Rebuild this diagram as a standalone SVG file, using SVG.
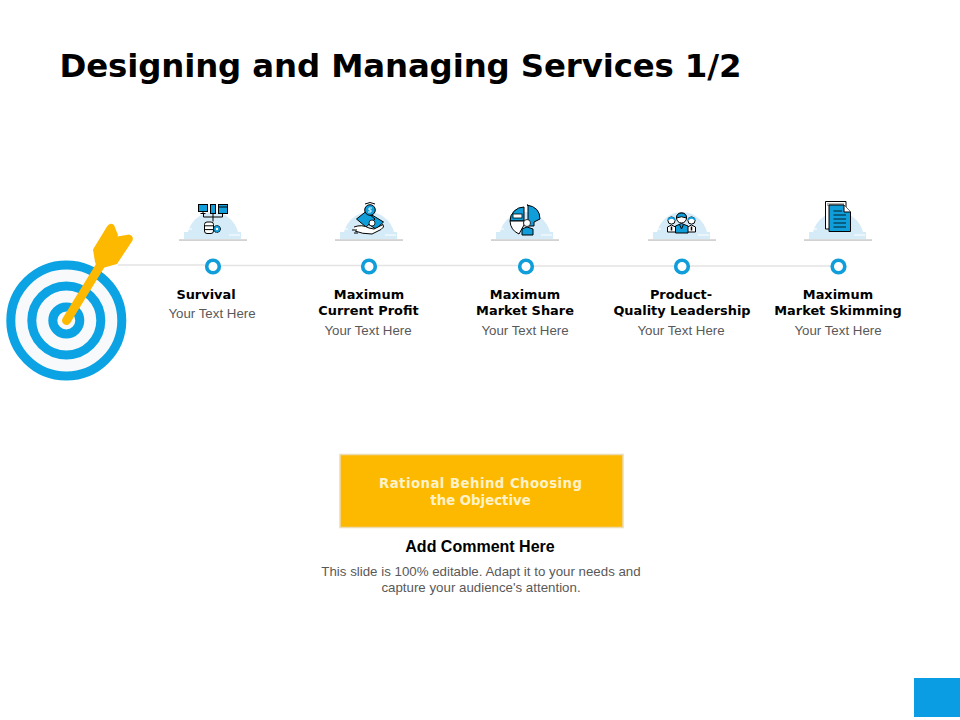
<svg xmlns="http://www.w3.org/2000/svg" width="960" height="720" viewBox="0 0 960 720">
<style>
text{text-anchor:middle}
.h{font:700 12.9px "DejaVu Sans",Verdana,sans-serif;fill:#000}
.s{font:400 13.3px "Liberation Sans",Arial,sans-serif;fill:#595959}
.r{font:700 13.3px "DejaVu Sans",Verdana,sans-serif;fill:#fff2c8}
.i{fill:#0f9ed9;stroke:#000;stroke-width:1}
.w{fill:#fff;stroke:#000;stroke-width:1}
.l{fill:none;stroke:#000;stroke-width:1}
.n{fill:#fff;stroke:#0f9ed9;stroke-width:3.600}
</style>
<defs>
<g id="dome">
<path d="M187 239A26 27 0 0 1 239 239Z" fill="#d6ebf8"/>
<path d="M184 232h10v7h-10ZM232 232h9v7h-9Z" fill="#d6ebf8"/>
<path d="M229 235h11M186 229h6" stroke="#fff" stroke-width="1.200"/>
<rect x="179" y="239.200" width="68" height="1.800" fill="#d2d2d2"/>
</g>
</defs>
<rect width="960" height="720" fill="#fff"/>
<text x="400.500" y="77" style="font:700 32.400px 'DejaVu Sans',Verdana,sans-serif" fill="#000" textLength="682" lengthAdjust="spacing">Designing and Managing Services 1/2</text>
<g id="connectors"><path d="M118 265H213M213 265.500H369M369 265.500H526M526 266H682M682 266H838" stroke="#e4e4e4" stroke-width="1.300" fill="none"/></g>
<g id="target">
<circle cx="66.300" cy="320.500" r="55.500" fill="#f8f9fb" stroke="#0ba3e3" stroke-width="9"/>
<circle cx="66.300" cy="320.500" r="34.500" fill="#f8f9fb" stroke="#0ba3e3" stroke-width="9"/>
<circle cx="66.300" cy="320.500" r="13.500" fill="#f8f9fb" stroke="#0ba3e3" stroke-width="9"/>
<path d="M66.500 320.500L100 266" stroke="#fdb900" stroke-width="9" stroke-linecap="round"/>
<path d="M107 226.500Q110 222 114 225L118 235L117.500 236.500L129 234.500Q134 236 132.500 240.500L117 264L101 268.500Q97 268 95 262L93 249.500Z" fill="#fdb900"/>
</g>
<g id="node1">
<use href="#dome"/>
<rect x="198.500" y="204.500" width="9" height="7" class="i"/><path d="M203 211.500v2M200.500 213.500h5" class="l"/>
<rect x="210.500" y="204.500" width="5" height="9" class="i"/>
<rect x="218.500" y="204.500" width="9" height="9" class="i"/><path d="M218.500 207h9" class="l"/>
<path d="M203.500 213.500v3.500h19v-3.500M213 213.500v8" class="l"/>
<rect x="204.500" y="222" width="9" height="11.500" rx="2.500" class="w"/><path d="M204.500 225.800h9M204.500 229.600h9" class="l"/>
<circle cx="217" cy="229" r="3.500" fill="#0f9ed9" stroke="#000" stroke-width="1" stroke-dasharray="1.500 .7"/>
<circle cx="217" cy="229" r="1.200" fill="#fff"/>
<circle cx="213" cy="266.500" r="6.300" class="n"/>
<text x="206" y="299" class="h">Survival</text>
<text x="212" y="318" class="s">Your Text Here</text>
</g>
<g id="node2">
<use href="#dome" x="156"/>
<path d="M372 215L383.500 222L376 229L368 224Z" class="i"/>
<path d="M356.500 219L366 211.500L375 219L366 227Z" class="i"/>
<path d="M365 204Q370 201 375 204" class="l"/>
<circle cx="370" cy="210" r="5.300" fill="#0f9ed9" stroke="#000"/>
<path d="M372 208H369V210H371V212H368" fill="none" stroke="#fff" stroke-width=".9"/>
<circle cx="372" cy="223" r="3" fill="#fff" stroke="#000" stroke-width=".8"/>
<path d="M354 227Q362 224 369 228L374 229L383 224.500Q385 227 381 229.500L372 234Q362 234 355 231" class="w"/>
<path d="M352 230h5M354 233h4" class="l" stroke-width=".7"/>
<circle cx="369" cy="266.500" r="6.300" class="n"/>
<text x="369" y="299" class="h">Maximum</text><text x="368.500" y="315" class="h">Current Profit</text>
<text x="368" y="335" class="s">Your Text Here</text>
</g>
<g id="node3">
<use href="#dome" x="312"/>
<path d="M524 207A14 14 0 0 0 510 221H524Z" class="i"/>
<path d="M510 221A15 15 0 0 0 519 234L524 225V221Z" fill="#fff" stroke="#000"/>
<path d="M527 205Q540 207 540 219L534 222V226H528V205Z" class="i"/>
<path d="M522 235V229L527 227L533 229V235Z" class="i"/>
<rect x="513" y="214" width="9" height="4" fill="#fff" stroke="#000" stroke-width=".8"/>
<circle cx="527" cy="223" r="3.500" fill="#fff" stroke="#000" stroke-width=".8"/>
<circle cx="526" cy="266.500" r="6.300" class="n"/>
<text x="525" y="299" class="h">Maximum</text><text x="525" y="315" class="h">Market Share</text>
<text x="525" y="335" class="s">Your Text Here</text>
</g>
<g id="node4">
<use href="#dome" x="469"/>
<path d="M667.500 232V227L671.500 225L675.500 227V232Z" class="w"/><circle cx="671.500" cy="220.500" r="3.600" class="w"/>
<path d="M687.500 232V227L691.500 225L695.500 227V232Z" class="w"/><circle cx="691.500" cy="220.500" r="3.600" class="w"/>
<path d="M671.500 226.500v4M691.500 226.500v4" stroke="#000" stroke-width="1.500"/>
<path d="M675.500 233V226L681.500 223.500L688 226V233Z" class="i"/>
<path d="M679.500 224.500L681.500 229L683.500 224.500" class="l"/>
<circle cx="681.500" cy="218" r="5" class="w"/>
<path d="M676.500 218Q676.500 213 681.500 213Q686.500 213 686.500 218Q681.500 215.500 676.500 218Z" class="i"/>
<path d="M668 219.500Q671.500 216 675 219.500M688 219.500Q691.500 216 695 219.500" stroke="#0f9ed9" stroke-width="2" fill="none"/>
<circle cx="682" cy="266.500" r="6.300" class="n"/>
<text x="681" y="299" class="h">Product-</text><text x="682" y="315" class="h">Quality Leadership</text>
<text x="681" y="335" class="s">Your Text Here</text>
</g>
<g id="node5">
<use href="#dome" x="625"/>
<path d="M825.500 201.500H846V229H825.500Z" fill="#fff" stroke="#000"/>
<rect x="827" y="203" width="17" height="3" fill="#b5b5b5"/>
<path d="M829 205H844L850.500 212V231.500H829Z" class="i"/>
<path d="M844 205V212H850.500" fill="#fff" stroke="#000"/>
<path d="M833.500 211H842M833.500 215H846M833.500 219H846M833.500 223H846M833.500 227H846" stroke="#000" stroke-width=".8"/>
<circle cx="838.500" cy="266.500" r="6.300" class="n"/>
<text x="838" y="299" class="h">Maximum</text><text x="838" y="315" class="h">Market Skimming</text>
<text x="838" y="335" class="s">Your Text Here</text>
</g>
<g id="objective">
<rect x="340" y="454.500" width="283" height="73" fill="#fdb900" stroke="#ecdcb4" stroke-width="1.500"/>
<text x="480.500" y="488" class="r" textLength="203" lengthAdjust="spacing">Rational Behind Choosing</text>
<text x="480.500" y="505" class="r">the Objective</text>
</g>
<g id="comment">
<text x="480" y="552" style="font:700 16px 'Liberation Sans',Arial,sans-serif" fill="#000">Add Comment Here</text>
<text x="481" y="576" class="s">This slide is 100% editable. Adapt it to your needs and</text>
<text x="481" y="592" class="s">capture your audience's attention.</text>
</g>
<rect id="corner" x="914" y="678" width="46" height="39" fill="#0a9de3"/>
</svg>
